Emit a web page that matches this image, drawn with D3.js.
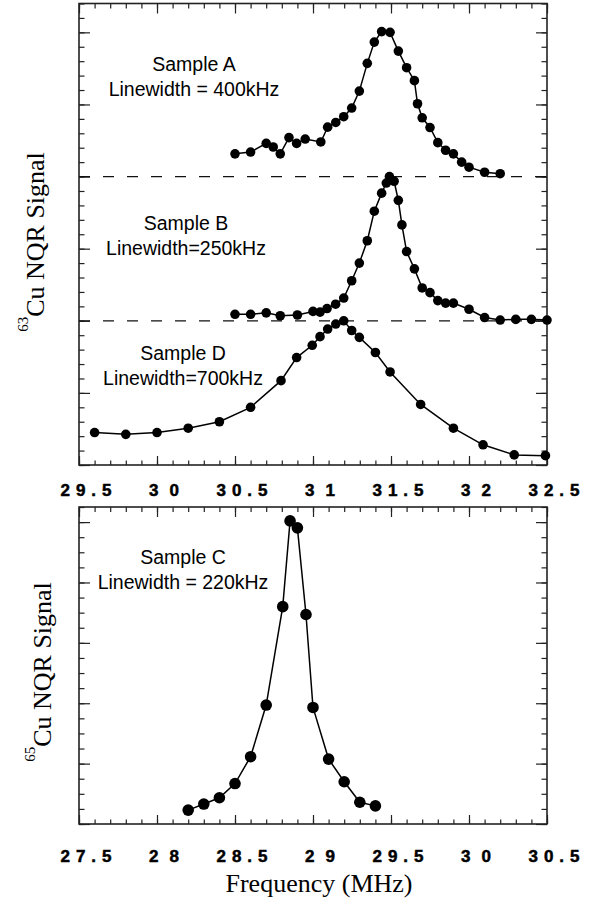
<!DOCTYPE html>
<html>
<head>
<meta charset="utf-8">
<script src="https://cdn.jsdelivr.net/npm/d3@7"></script>
<style>
  body { margin: 0; background: #fff; }
</style>
</head>
<body>
<div id="chart"></div>
<script>
// values (frequency in MHz, signal in arbitrary offset units)
var freqA = [30.50, 30.60, 30.70, 30.745, 30.79, 30.846, 30.895, 30.95, 31.05, 31.094, 31.146, 31.197, 31.248, 31.297, 31.348, 31.393, 31.44, 31.494, 31.547, 31.60, 31.65, 31.67, 31.70, 31.75, 31.80, 31.85, 31.90, 31.953, 32.00, 32.10, 32.20];
var sigA  = [4.315, 4.34, 4.46, 4.41, 4.315, 4.54, 4.46, 4.52, 4.48, 4.685, 4.75, 4.83, 4.95, 5.185, 5.57, 5.865, 6.01, 6.00, 5.74, 5.51, 5.33, 5.01, 4.815, 4.68, 4.47, 4.365, 4.315, 4.20, 4.13, 4.06, 4.04];

var freqB = [30.50, 30.60, 30.70, 30.79, 30.90, 31.00, 31.045, 31.09, 31.145, 31.197, 31.248, 31.297, 31.348, 31.393, 31.44, 31.47, 31.49, 31.52, 31.547, 31.57, 31.60, 31.65, 31.70, 31.75, 31.80, 31.85, 31.90, 32.00, 32.10, 32.20, 32.30, 32.40, 32.50];
var sigB  = [2.09, 2.09, 2.11, 2.07, 2.08, 2.13, 2.12, 2.17, 2.23, 2.315, 2.555, 2.80, 3.11, 3.52, 3.77, 3.91, 4.00, 3.935, 3.67, 3.33, 2.96, 2.72, 2.455, 2.39, 2.28, 2.245, 2.245, 2.16, 2.045, 2.01, 2.02, 2.02, 2.01];

var freqD = [29.60, 29.80, 30.00, 30.20, 30.40, 30.60, 30.795, 30.895, 30.995, 31.045, 31.094, 31.146, 31.197, 31.248, 31.297, 31.40, 31.494, 31.69, 31.90, 32.09, 32.29, 32.49];
var sigD  = [0.45, 0.425, 0.45, 0.51, 0.60, 0.80, 1.17, 1.49, 1.66, 1.78, 1.885, 1.955, 2.00, 1.865, 1.77, 1.56, 1.29, 0.84, 0.51, 0.28, 0.14, 0.13];

var freqC = [28.20, 28.30, 28.40, 28.50, 28.60, 28.70, 28.806, 28.853, 28.90, 28.955, 29.00, 29.10, 29.20, 29.30, 29.40];
var sigC  = [0.23, 0.33, 0.435, 0.67, 1.115, 1.97, 3.60, 5.02, 4.905, 3.47, 1.93, 1.075, 0.70, 0.36, 0.30];

// baselines of the stacked spectra (dashed lines)
var baselines = [4, 2];

// tick labels
var xTicksTop = [29.5, 30, 30.5, 31, 31.5, 32, 32.5];
var xLabelsTop = ["29.5", "30", "30.5", "31", "31.5", "32", "32.5"];
var xTicksBot = [27.5, 28, 28.5, 29, 29.5, 30, 30.5];
var xLabelsBot = ["27.5", "28", "28.5", "29", "29.5", "30", "30.5"];

var width = 592;
var height = 903;
var sans = "'Liberation Sans', Arial, Helvetica, sans-serif";
var serif = "'Liberation Serif', 'Times New Roman', serif";

var svg = d3.select("#chart")
    .append("svg")
    .attr("width", width)
    .attr("height", height);

// scales for the two panels
var xTop = d3.scaleLinear().domain([29.5, 32.5]).range([79, 547]);
var yTop = d3.scaleLinear().domain([0, 6.4]).range([465, 3.5]);
var xBot = d3.scaleLinear().domain([27.5, 30.5]).range([79, 547]);
var yBot = d3.scaleLinear().domain([0, 5.25]).range([824, 507]);

// draws inward ticks on all four sides of a panel
function drawTicks(x, y, xMinor, xMajor, yMinor, yMajor) {
    var x0 = x.range()[0], x1 = x.range()[1];
    var yb = y.range()[0], yt = y.range()[1];
    var sets = [
        [d3.axisBottom(x), yb, 0, xMinor, -4.5],
        [d3.axisBottom(x), yb, 0, xMajor, -9],
        [d3.axisTop(x), yt, 0, xMinor, -5],
        [d3.axisTop(x), yt, 0, xMajor, -10],
        [d3.axisLeft(y), 0, x0, yMinor, -5.5],
        [d3.axisLeft(y), 0, x0, yMajor, -11],
        [d3.axisRight(y), 0, x1, yMinor, -5.5],
        [d3.axisRight(y), 0, x1, yMajor, -11]
    ];
    sets.forEach(function (s) {
        var g = svg.append("g")
            .attr("transform", "translate(" + s[2] + "," + s[1] + ")")
            .call(s[0].tickValues(s[3]).tickSize(s[4]).tickFormat(""));
        g.select(".domain").remove();
        g.selectAll("line").attr("stroke", "#222").attr("stroke-width", 1.2);
    });

    svg.append("rect")
        .attr("x", x0).attr("y", yt)
        .attr("width", x1 - x0).attr("height", yb - yt)
        .attr("fill", "none")
        .attr("stroke", "#222")
        .attr("stroke-width", 1.6);
}

function drawLabels(x, values, labels, baseY) {
    svg.append("g")
        .selectAll("text")
        .data(values)
        .enter()
        .append("text")
        .attr("x", function (d) {
            var ls = Number.isInteger(d) ? 11 : 6;
            return x(d) + 7 + ls / 2;
        })
        .attr("y", baseY)
        .attr("text-anchor", "middle")
        .attr("font-family", sans)
        .attr("font-weight", "bold")
        .attr("font-size", 17)
        .attr("letter-spacing", function (d) { return Number.isInteger(d) ? 11 : 6; })
        .attr("fill", "#000")
        .attr("stroke", "#000")
        .attr("stroke-width", 0.5)
        .text(function (d, i) { return labels[i]; });
}

function drawSeries(x, y, freq, sig, r) {
    var pts = d3.zip(freq, sig);
    var line = d3.line()
        .x(function (d) { return x(d[0]); })
        .y(function (d) { return y(d[1]); });
    svg.append("path")
        .datum(pts)
        .attr("d", line)
        .attr("fill", "none")
        .attr("stroke", "#000")
        .attr("stroke-width", 1.5);
    svg.append("g")
        .selectAll("circle")
        .data(pts)
        .enter()
        .append("circle")
        .attr("cx", function (d) { return x(d[0]); })
        .attr("cy", function (d) { return y(d[1]); })
        .attr("r", r)
        .attr("fill", "#000");
}

function note(cx, y1, t1, t2) {
    var t = svg.append("text")
        .attr("text-anchor", "middle")
        .attr("font-family", sans)
        .attr("font-size", 19.5)
        .attr("fill", "#000");
    t.append("tspan").attr("x", cx).attr("y", y1).text(t1);
    t.append("tspan").attr("x", cx).attr("y", y1 + 25).text(t2);
}

function yTitle(cx, cy, iso) {
    var t = svg.append("text")
        .attr("transform", "translate(" + cx + "," + cy + ") rotate(-90)")
        .attr("text-anchor", "middle")
        .attr("font-family", serif)
        .attr("font-size", 26)
        .attr("fill", "#000");
    t.append("tspan").attr("font-size", 15).attr("dy", -16).text(iso);
    t.append("tspan").attr("dy", 16).text("Cu NQR Signal");
}

// ---- top panel: 63Cu ----
drawTicks(xTop, yTop, xTop.ticks(30), xTop.ticks(6), yTop.ticks(32), yTop.ticks(6));

svg.append("g")
    .selectAll("line")
    .data(baselines)
    .enter()
    .append("line")
    .attr("x1", xTop.range()[0])
    .attr("x2", xTop.range()[1])
    .attr("y1", function (d) { return yTop(d); })
    .attr("y2", function (d) { return yTop(d); })
    .attr("stroke", "#111")
    .attr("stroke-width", 1.2)
    .attr("stroke-dasharray", "11,13");

drawSeries(xTop, yTop, freqA, sigA, 4.8);
drawSeries(xTop, yTop, freqB, sigB, 4.8);
drawSeries(xTop, yTop, freqD, sigD, 4.8);

note(194, 71, "Sample A", "Linewidth = 400kHz");
note(186, 230, "Sample B", "Linewidth=250kHz");
note(183, 360, "Sample D", "Linewidth=700kHz");

drawLabels(xTop, xTicksTop, xLabelsTop, 496);
yTitle(44, 242, "63");

// ---- bottom panel: 65Cu ----
drawTicks(xBot, yBot, xBot.ticks(30), xBot.ticks(6), d3.range(0, 5.26, 0.25), d3.range(0, 5.26, 1));
drawSeries(xBot, yBot, freqC, sigC, 5.8);
note(183, 564, "Sample C", "Linewidth = 220kHz");
drawLabels(xBot, xTicksBot, xLabelsBot, 862);
yTitle(51, 672, "65");

svg.append("text")
    .attr("x", 319)
    .attr("y", 892)
    .attr("text-anchor", "middle")
    .attr("font-family", serif)
    .attr("font-size", 26)
    .attr("fill", "#000")
    .text("Frequency (MHz)");
</script>
</body>
</html>
